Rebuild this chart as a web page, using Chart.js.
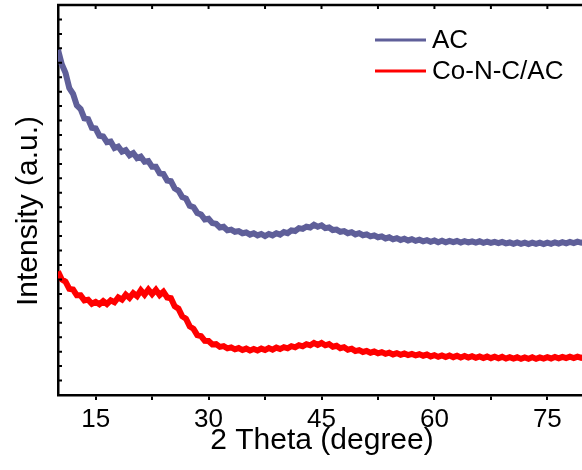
<!DOCTYPE html>
<html>
<head>
<meta charset="utf-8">
<script src="https://cdn.jsdelivr.net/npm/chart.js@4.4.1/dist/chart.umd.min.js"></script>
<style>
  html, body { margin: 0; padding: 0; background: #fff; overflow: hidden; }
  canvas { display: block; }
</style>
</head>
<body>
<canvas id="xrdChart" width="590" height="470"></canvas>
<script>
// 2 theta positions (degree)
const twoTheta = [
  10, 10.5, 11, 11.5, 12, 12.5, 13, 13.5, 14, 14.5,
  15, 15.5, 16, 16.5, 17, 17.5, 18, 18.5, 19, 19.5,
  20, 20.5, 21, 21.5, 22, 22.5, 23, 23.5, 24, 24.5,
  25, 25.5, 26, 26.5, 27, 27.5, 28, 28.5, 29, 29.5,
  30, 30.5, 31, 31.5, 32, 32.5, 33, 33.5, 34, 34.5,
  35, 35.5, 36, 36.5, 37, 37.5, 38, 38.5, 39, 39.5,
  40, 40.5, 41, 41.5, 42, 42.5, 43, 43.5, 44, 44.5,
  45, 45.5, 46, 46.5, 47, 47.5, 48, 48.5, 49, 49.5,
  50, 50.5, 51, 51.5, 52, 52.5, 53, 53.5, 54, 54.5,
  55, 55.5, 56, 56.5, 57, 57.5, 58, 58.5, 59, 59.5,
  60, 60.5, 61, 61.5, 62, 62.5, 63, 63.5, 64, 64.5,
  65, 65.5, 66, 66.5, 67, 67.5, 68, 68.5, 69, 69.5,
  70, 70.5, 71, 71.5, 72, 72.5, 73, 73.5, 74, 74.5,
  75, 75.5, 76, 76.5, 77, 77.5, 78, 78.5, 79, 79.5,
  80
];

// intensity, arbitrary units
const acIntensity = [
  23.9, 22.9, 22.3, 21.25, 20.85, 20.05, 19.8, 19.15, 19.1, 18.5,
  18.45, 17.95, 17.9, 17.5, 17.55, 17.1, 17.2, 16.85, 16.95, 16.6,
  16.75, 16.4, 16.5, 16.15, 16.2, 15.8, 15.8, 15.35, 15.3, 14.85,
  14.8, 14.3, 14.15, 13.7, 13.6, 13.1, 13.0, 12.6, 12.5, 12.15,
  12.2, 11.9, 11.85, 11.6, 11.65, 11.4, 11.45, 11.3, 11.35, 11.2,
  11.25, 11.1, 11.2, 11.05, 11.15, 11.0, 11.15, 11.05, 11.2, 11.1,
  11.28, 11.2, 11.4, 11.35, 11.55, 11.5, 11.65, 11.6, 11.78, 11.65,
  11.75, 11.55, 11.6, 11.42, 11.45, 11.3, 11.35, 11.2, 11.27, 11.12,
  11.2, 11.06, 11.12, 10.98, 11.05, 10.92, 10.98, 10.84, 10.92, 10.78,
  10.86, 10.73, 10.82, 10.7, 10.79, 10.67, 10.75, 10.64, 10.72, 10.61,
  10.7, 10.58, 10.68, 10.57, 10.67, 10.58, 10.66, 10.56, 10.65, 10.57,
  10.64, 10.55, 10.64, 10.54, 10.62, 10.53, 10.6, 10.52, 10.6, 10.5,
  10.56, 10.46, 10.56, 10.47, 10.55, 10.45, 10.55, 10.46, 10.54, 10.45,
  10.55, 10.47, 10.57, 10.48, 10.58, 10.5, 10.6, 10.52, 10.62, 10.54,
  10.6
];

const conIntensity = [
  8.55, 8.0, 7.85, 7.35, 7.3, 6.9, 6.9, 6.55, 6.6, 6.32,
  6.45, 6.28, 6.5, 6.3, 6.55, 6.42, 6.75, 6.6, 6.95, 6.72,
  7.05, 6.85, 7.25, 6.95, 7.3, 6.98, 7.28, 6.92, 7.15, 6.75,
  6.7, 6.15, 5.98, 5.45, 5.28, 4.75, 4.58, 4.15, 4.08, 3.75,
  3.74, 3.5, 3.52, 3.33, 3.38, 3.23, 3.3, 3.16, 3.25, 3.11,
  3.21, 3.08, 3.18, 3.08, 3.21, 3.11, 3.25, 3.14, 3.28, 3.18,
  3.31, 3.23, 3.38, 3.3, 3.45, 3.37, 3.52, 3.44, 3.6, 3.47,
  3.6, 3.44, 3.52, 3.34, 3.41, 3.24, 3.31, 3.14, 3.21, 3.04,
  3.11, 2.98, 3.05, 2.93, 3.01, 2.89, 2.97, 2.85, 2.93, 2.81,
  2.9, 2.78, 2.87, 2.76, 2.84, 2.74, 2.82, 2.72, 2.8, 2.67,
  2.76, 2.64, 2.74, 2.63, 2.73, 2.62, 2.72, 2.6, 2.7, 2.59,
  2.69, 2.58, 2.67, 2.56, 2.66, 2.55, 2.65, 2.54, 2.64, 2.52,
  2.62, 2.52, 2.61, 2.5, 2.6, 2.51, 2.61, 2.5, 2.6, 2.52,
  2.62, 2.53, 2.63, 2.54, 2.64, 2.55, 2.65, 2.56, 2.66, 2.57,
  2.65
];

const seriesNames = ["AC", "Co-N-C/AC"];
const seriesColors = ["#5f5f99", "#ff0000"];
const xTickValues = [15, 22.5, 30, 37.5, 45, 52.5, 60, 67.5, 75];
const xMin = 10, xMax = 80;
const yMin = 0, yMax = 27;

const FONT = "'Liberation Sans', Arial, sans-serif";

function toPoints(values) {
  return twoTheta.map((t, i) => ({ x: t, y: values[i] }));
}

// top frame line, inward ticks, axis titles and legend
const decorPlugin = {
  id: "decor",
  afterDraw(chart) {
    const ctx = chart.ctx;
    const a = chart.chartArea;
    const xs = chart.scales.x;
    const ys = chart.scales.y;
    ctx.save();
    ctx.strokeStyle = "#000";
    ctx.lineWidth = 2.5;
    ctx.beginPath();
    ctx.moveTo(a.left - 1, a.top);
    ctx.lineTo(a.right, a.top);
    ctx.stroke();

    ctx.lineWidth = 2;
    ctx.beginPath();
    xTickValues.forEach(v => {
      const px = xs.getPixelForValue(v);
      ctx.moveTo(px, a.top);
      ctx.lineTo(px, a.top + 4);
    });
    ys.ticks.forEach(t => {
      const py = ys.getPixelForValue(t.value);
      ctx.moveTo(a.left, py);
      ctx.lineTo(a.left + 4, py);
    });
    ctx.stroke();

    // axis titles
    ctx.fillStyle = "#000";
    ctx.font = "30px " + FONT;
    ctx.textAlign = "center";
    ctx.textBaseline = "alphabetic";
    ctx.fillText("2 Theta (degree)", 322, 449);

    ctx.save();
    ctx.translate(37, 211);
    ctx.rotate(-Math.PI / 2);
    ctx.fillText("Intensity (a.u.)", 0, 0);
    ctx.restore();

    // legend
    ctx.font = "26px " + FONT;
    ctx.textAlign = "left";
    ctx.textBaseline = "middle";
    chart.data.datasets.forEach((ds, i) => {
      const ly = 40 + i * 31;
      ctx.strokeStyle = ds.borderColor;
      ctx.lineWidth = 3;
      ctx.beginPath();
      ctx.moveTo(375, ly);
      ctx.lineTo(426, ly);
      ctx.stroke();
      ctx.fillStyle = "#000";
      ctx.fillText(ds.label, 432, ly + 1);
    });
    ctx.restore();
  }
};

const chart = new Chart(document.getElementById("xrdChart").getContext("2d"), {
  type: "line",
  data: {
    datasets: [
      {
        label: seriesNames[0],
        data: toPoints(acIntensity),
        borderColor: seriesColors[0],
        borderWidth: 6,
        pointRadius: 0,
        tension: 0
      },
      {
        label: seriesNames[1],
        data: toPoints(conIntensity),
        borderColor: seriesColors[1],
        borderWidth: 6,
        pointRadius: 0,
        tension: 0
      }
    ]
  },
  options: {
    responsive: false,
    animation: false,
    layout: { padding: { top: 5, right: 5, left: 0, bottom: 0 } },
    plugins: {
      legend: { display: false },
      tooltip: { enabled: false }
    },
    scales: {
      x: {
        type: "linear",
        min: xMin,
        max: xMax,
        afterBuildTicks: scale => {
          scale.ticks = xTickValues.map(v => ({ value: v }));
        },
        afterFit: scale => { scale.height = 75; },
        ticks: {
          color: "#000",
          font: { family: FONT, size: 26 },
          padding: 4,
          maxRotation: 0,
          autoSkip: false,
          callback: v => (v % 15 === 0 ? v : "")
        },
        grid: {
          drawOnChartArea: false,
          drawTicks: true,
          tickLength: 5,
          color: "#000",
          lineWidth: 2
        },
        border: { display: true, color: "#000", width: 2.5 }
      },
      y: {
        type: "linear",
        min: yMin,
        max: yMax,
        ticks: { display: false, stepSize: 1 },
        afterFit: scale => { scale.width = 58; },
        grid: { drawOnChartArea: false, drawTicks: false },
        border: { display: true, color: "#000", width: 2.5 }
      }
    }
  },
  plugins: [decorPlugin]
});
</script>
</body>
</html>
